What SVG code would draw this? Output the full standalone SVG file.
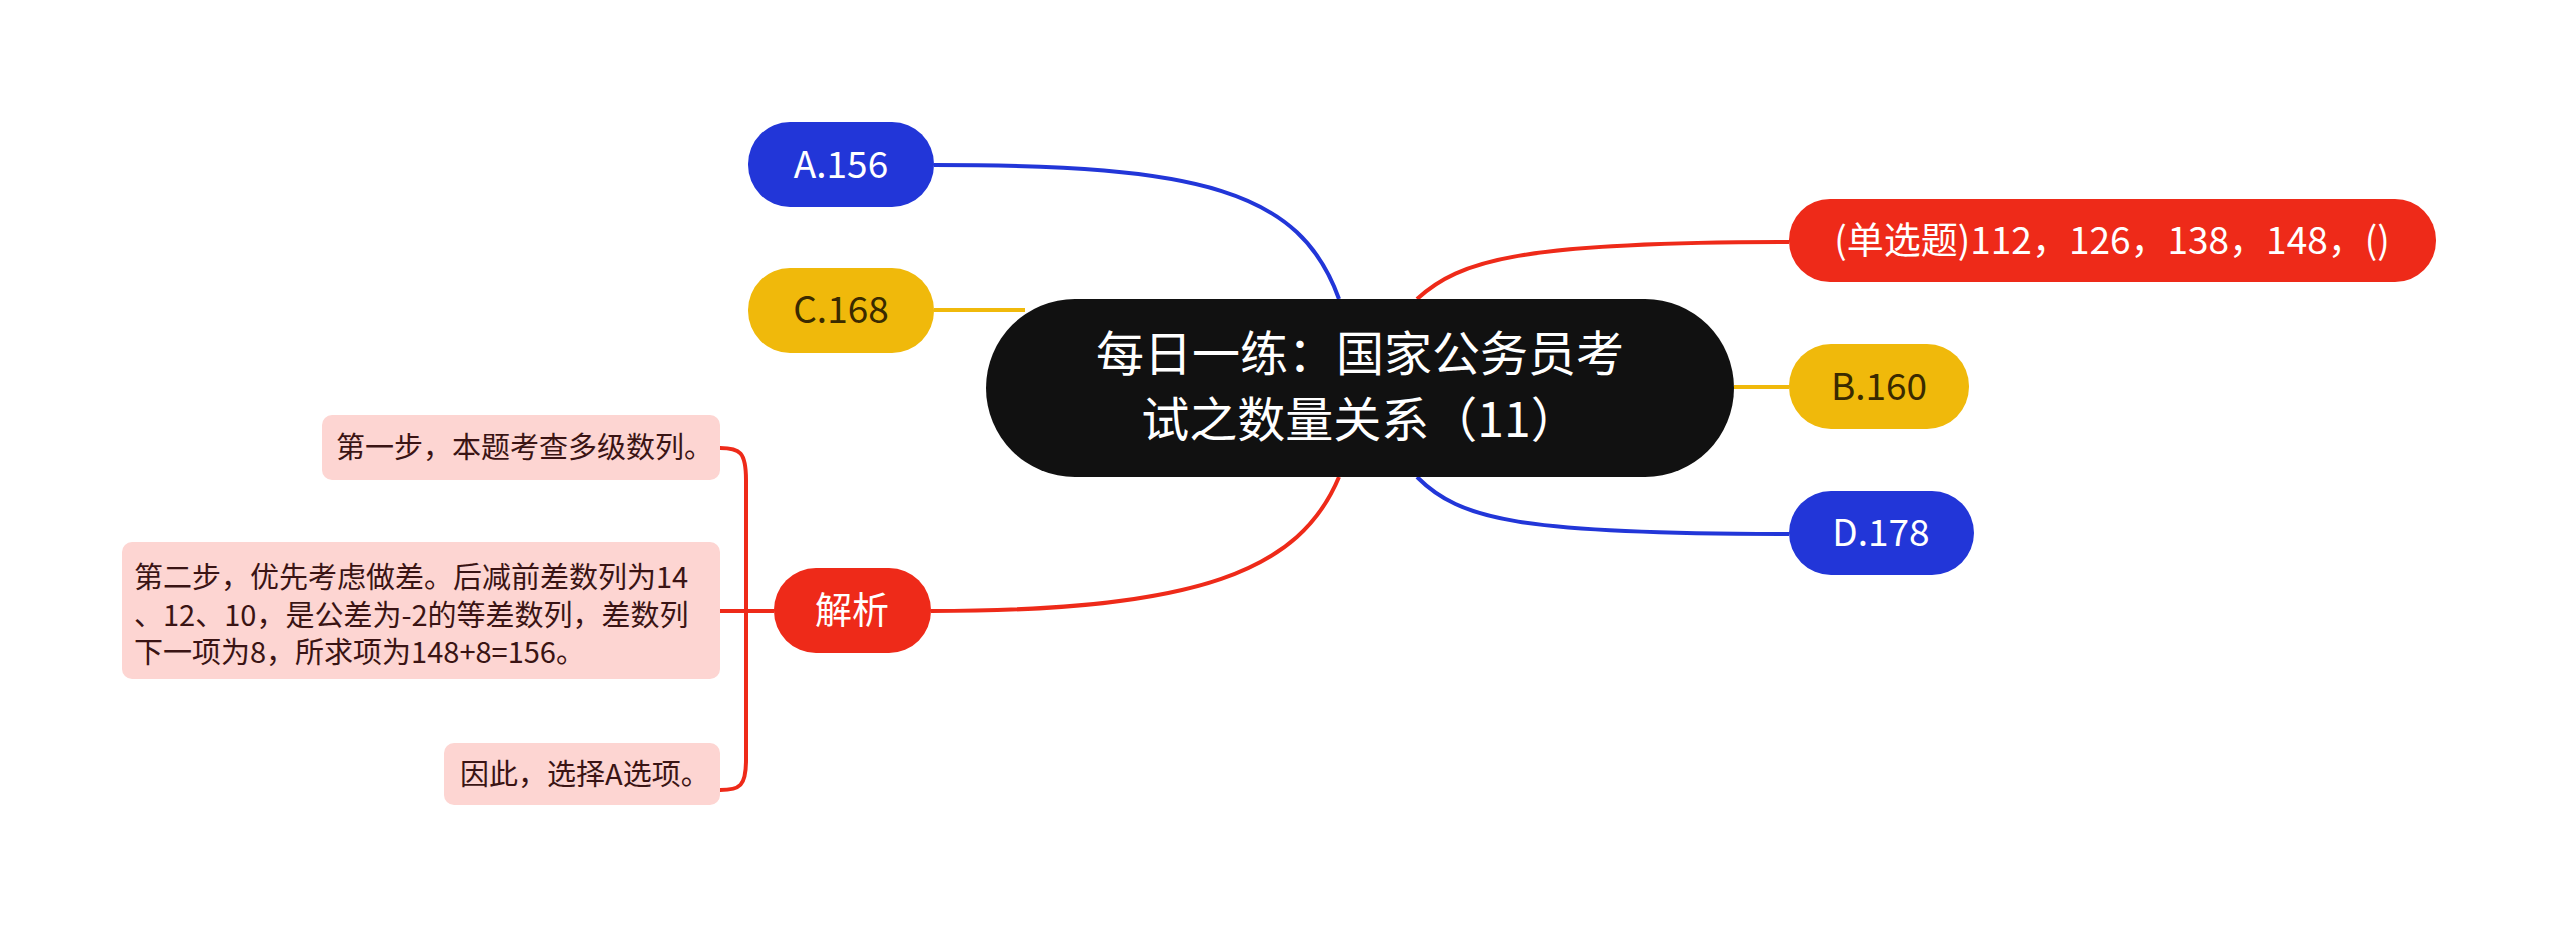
<svg xmlns="http://www.w3.org/2000/svg" width="2560" height="929" viewBox="0 0 2560 929">
<style>
text{font-family:"Noto Sans CJK SC","Noto Sans",sans-serif}
.w{fill:#fff;font-size:37px;text-anchor:middle}
.y{fill:#3a2a00;font-size:37px;text-anchor:middle}
.k{fill:#3a1414;font-size:29px}
.c{fill:none;stroke-width:4}
</style>
<rect width="2560" height="929" fill="#fff"/>
<g id="connectors">
<path class="c" stroke="#2236d8" d="M1339,299 C1300,190 1200,165 934,165"/>
<path class="c" stroke="#f0b90b" d="M1025,310 L934,310"/>
<path class="c" stroke="#ee2a19" d="M1417,299 C1460,260 1520,242 1789,242"/>
<path class="c" stroke="#f0b90b" d="M1734,387 L1789,387"/>
<path class="c" stroke="#2236d8" d="M1417,477 C1460,520 1520,534 1789,534"/>
<path class="c" stroke="#ee2a19" d="M1339,477 C1300,570 1200,611 931,611"/>
<path class="c" stroke="#ee2a19" d="M774,611 L720,611"/>
<path class="c" stroke="#ee2a19" d="M720,448 C740,448 746,452 746,480 L746,760 C746,786 740,790 720,790"/>
</g>
<g id="center"><rect x="986" y="299" width="748" height="178" rx="89" fill="#111"/>
<text x="1360" y="371" fill="#fff" font-size="48" text-anchor="middle">每日一练：国家公务员考</text>
<text x="1360" y="437" fill="#fff" font-size="48" text-anchor="middle">试之数量关系（11）</text></g>
<g id="a"><rect x="748" y="122" width="186" height="85" rx="42" fill="#2236d8"/><text class="w" x="841" y="178">A.156</text></g>
<g id="c"><rect x="748" y="268" width="186" height="85" rx="42" fill="#f0b90b"/><text class="y" x="841" y="323">C.168</text></g>
<g id="q"><rect x="1789" y="199" width="647" height="83" rx="41" fill="#ee2a19"/><text class="w" x="2112" y="254">(单选题)112，126，138，148，()</text></g>
<g id="b"><rect x="1789" y="344" width="180" height="85" rx="42" fill="#f0b90b"/><text class="y" x="1879" y="400">B.160</text></g>
<g id="d"><rect x="1789" y="491" width="185" height="84" rx="42" fill="#2236d8"/><text class="w" x="1881" y="546">D.178</text></g>
<g id="jx"><rect x="774" y="568" width="157" height="85" rx="42" fill="#ee2a19"/><text class="w" x="852" y="624">解析</text></g>
<g id="s1"><rect x="322" y="415" width="398" height="65" rx="10" fill="#fdd5d2"/><text class="k" x="336" y="458">第一步，本题考查多级数列。</text></g>
<g id="s2"><rect x="122" y="542" width="598" height="137" rx="10" fill="#fdd5d2"/>
<text class="k" x="134" y="588">第二步，优先考虑做差。后减前差数列为14</text>
<text class="k" x="134" y="626">、12、10，是公差为-2的等差数列，差数列</text>
<text class="k" x="134" y="663">下一项为8，所求项为148+8=156。</text></g>
<g id="s3"><rect x="444" y="743" width="276" height="62" rx="10" fill="#fdd5d2"/><text class="k" x="460" y="785">因此，选择A选项。</text></g>
</svg>
